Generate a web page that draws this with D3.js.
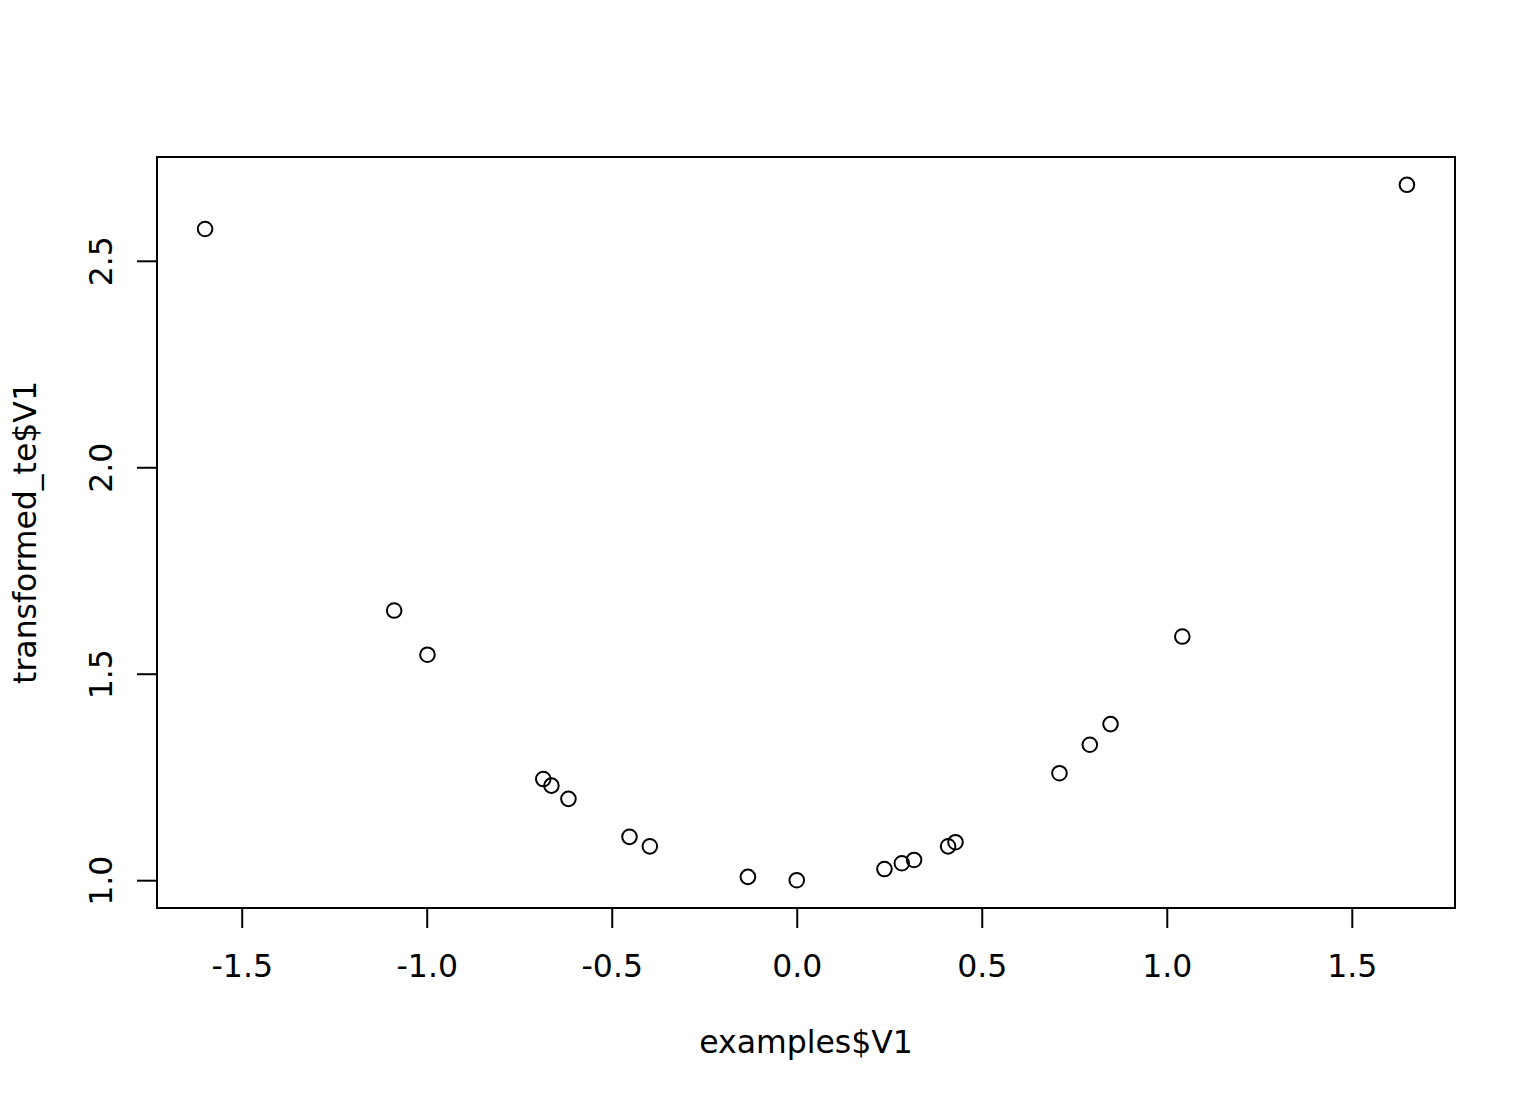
<!DOCTYPE html>
<html lang="en">
  <head>
    <meta charset="utf-8" />
    <title>examples$V1 vs transformed_te$V1</title>
    <script src="https://d3js.org/d3.v7.min.js"></script>
    <style type="text/css">
      body { margin: 0; background: #fff; }
      text { font-family: 'DejaVu Sans', sans-serif; }
    </style>
  </head>
  <body>
    <script type="text/javascript">
      // values
      const xValues = [-1.599, -1.088, -0.998, -0.685, -0.663, -0.617, -0.452, -0.397, -0.132, 0.0,
        0.237, 0.284, 0.317, 0.409, 0.429, 0.710, 0.792, 0.848, 1.042, 1.649];
      const yValues = [2.577, 1.653, 1.546, 1.245, 1.229, 1.197, 1.105, 1.082, 1.008, 1.0,
        1.027, 1.041, 1.049, 1.082, 1.092, 1.259, 1.328, 1.378, 1.590, 2.684];
      const xTicks = [-1.5, -1.0, -0.5, 0.0, 0.5, 1.0, 1.5];
      const yTicks = [1.0, 1.5, 2.0, 2.5];
      const xTitle = 'examples$V1';
      const yTitle = 'transformed_te$V1';

      const w = 1536;
      const h = 1104;
      const margin = { top: 157, right: 81, bottom: 196, left: 157 };
      const fontSize = 31.5;

      // R style range: data extent padded by 4%
      function pad(ext) {
        const p = (ext[1] - ext[0]) * 0.04;
        return [ext[0] - p, ext[1] + p];
      }

      const xScale = d3.scaleLinear()
        .domain(pad(d3.extent(xValues)))
        .range([margin.left, w - margin.right]);
      const yScale = d3.scaleLinear()
        .domain(pad(d3.extent(yValues)))
        .range([h - margin.bottom, margin.top]);

      const svg = d3.select('body').append('svg').attr('width', w).attr('height', h);

      // x axis
      const xAxis = svg.append('g')
        .attr('transform', `translate(0,${h - margin.bottom})`)
        .call(d3.axisBottom(xScale).tickValues(xTicks).tickSize(20).tickSizeOuter(0)
          .tickFormat((d) => d.toFixed(1)));
      xAxis.select('.domain').remove();
      xAxis.selectAll('line').attr('stroke', '#000').attr('stroke-width', 2);
      xAxis.selectAll('text')
        .attr('y', 68.5).attr('dy', null)
        .attr('font-size', fontSize).attr('font-family', 'DejaVu Sans').attr('fill', '#000');

      // y axis, labels turned like R's las=0
      const yAxis = svg.append('g')
        .attr('transform', `translate(${margin.left},0)`)
        .call(d3.axisLeft(yScale).tickValues(yTicks).tickSize(20).tickSizeOuter(0)
          .tickFormat((d) => d.toFixed(1)));
      yAxis.select('.domain').remove();
      yAxis.selectAll('line').attr('stroke', '#000').attr('stroke-width', 2);
      yAxis.selectAll('text')
        .attr('x', null).attr('dy', null)
        .attr('transform', 'translate(-45.5,0) rotate(-90)')
        .attr('text-anchor', 'middle')
        .attr('font-size', fontSize).attr('font-family', 'DejaVu Sans').attr('fill', '#000');

      // plot box
      svg.append('rect')
        .attr('x', margin.left)
        .attr('y', margin.top)
        .attr('width', w - margin.left - margin.right)
        .attr('height', h - margin.top - margin.bottom)
        .attr('fill', 'none')
        .attr('stroke', '#000')
        .attr('stroke-width', 2);

      // points
      svg.selectAll('circle')
        .data(xValues)
        .enter()
        .append('circle')
        .attr('cx', (d) => xScale(d))
        .attr('cy', (d, i) => yScale(yValues[i]))
        .attr('r', 7.3)
        .attr('fill', 'none')
        .attr('stroke', '#000')
        .attr('stroke-width', 2);

      // titles
      svg.append('text')
        .attr('x', (margin.left + w - margin.right) / 2)
        .attr('y', 1053)
        .attr('text-anchor', 'middle')
        .attr('font-size', fontSize)
        .text(xTitle);

      svg.append('text')
        .attr('transform', `translate(36,${(margin.top + h - margin.bottom) / 2}) rotate(-90)`)
        .attr('text-anchor', 'middle')
        .attr('font-size', fontSize)
        .text(yTitle);
    </script>
  </body>
</html>
